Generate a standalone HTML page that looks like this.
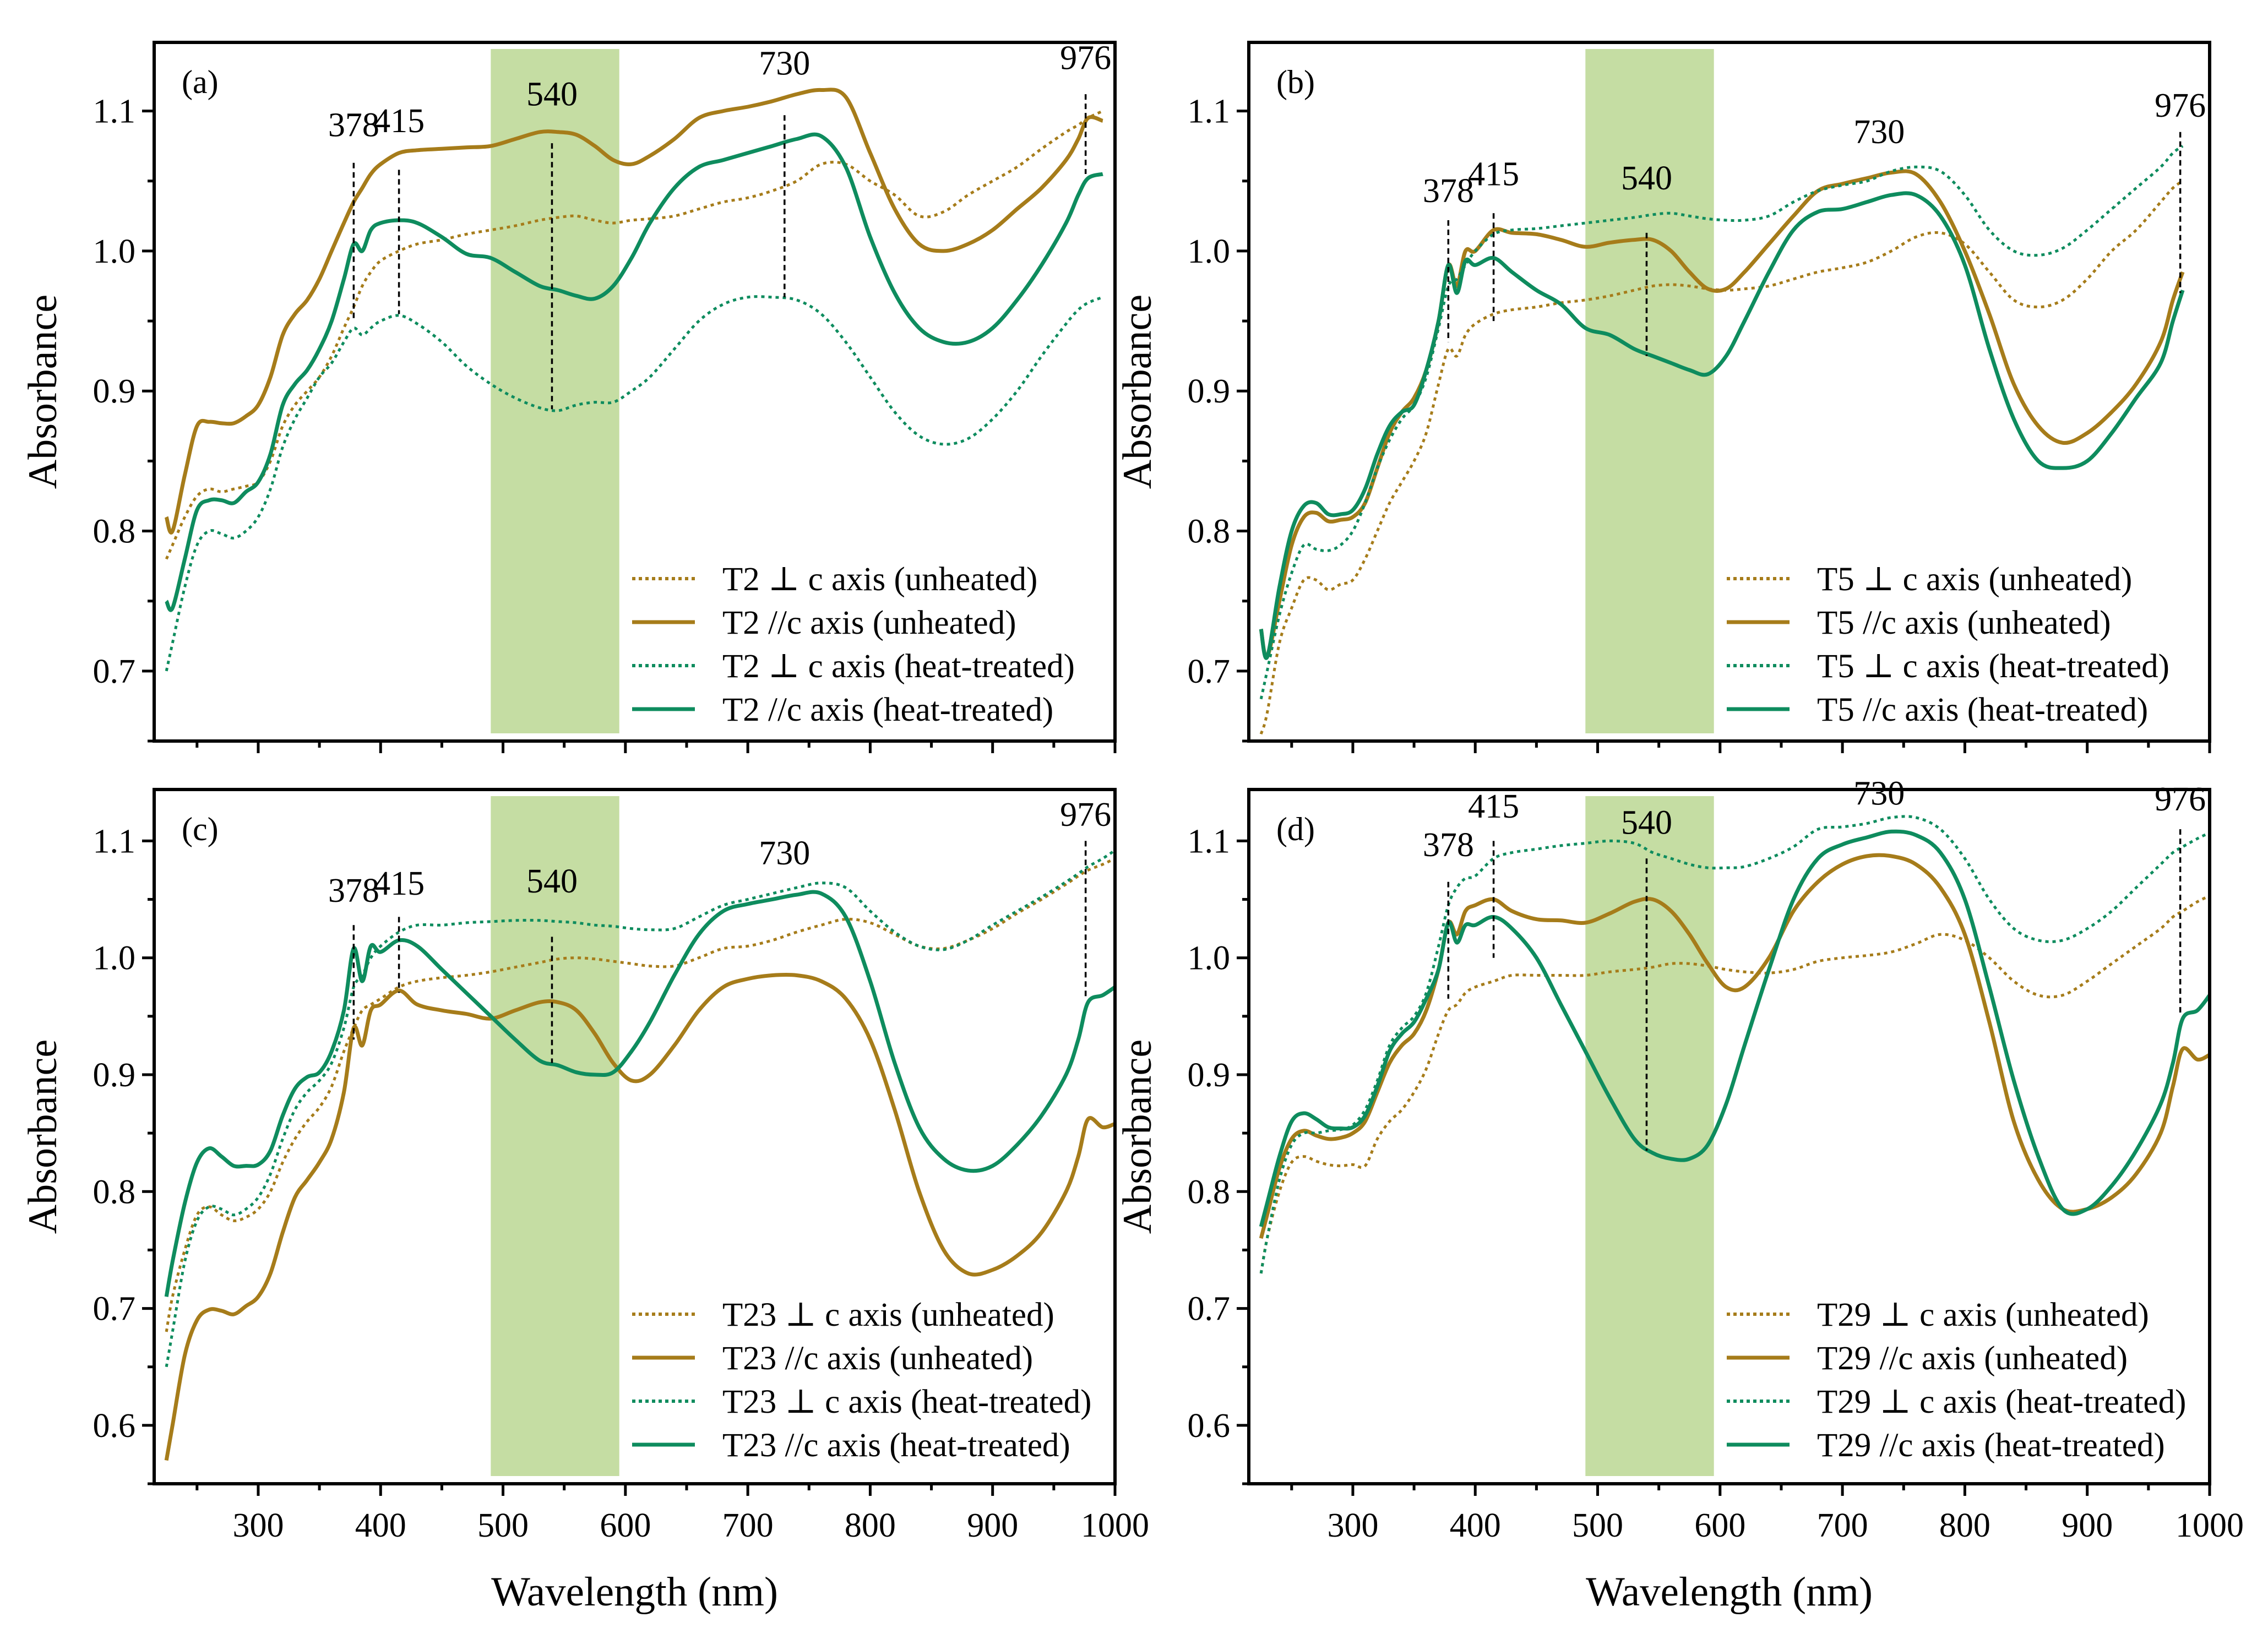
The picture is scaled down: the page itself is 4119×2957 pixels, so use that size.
<!DOCTYPE html>
<html><head><meta charset="utf-8">
<style>
html,body{margin:0;padding:0;background:#fff;}
svg{display:block;font-family:"Liberation Serif","DejaVu Serif",serif;}
</style></head>
<body>
<svg id="chart" width="4119" height="2957" viewBox="0 0 4119 2957" xmlns="http://www.w3.org/2000/svg"></svg>
<script>
const wl=[225,230,240,250,260,270,280,290,300,310,320,330,340,350,360,370,378,385,392,400,415,430,450,470,490,510,530,545,560,575,590,605,620,640,660,680,700,720,740,760,780,800,820,840,860,880,900,920,940,960,970,978,990,1000];
const xTicks=[300,400,500,600,700,800,900,1000];
const yTicksTop=[0.7,0.8,0.9,1.0,1.1];
const yTicksBottom=[0.6,0.7,0.8,0.9,1.0,1.1];
const bandRange=[490,595];
// panel (a) T2
const a_pu=[0.78,0.79,0.81,0.825,0.83,0.828,0.83,0.832,0.835,0.85,0.875,0.89,0.9,0.91,0.925,0.945,0.96,0.975,0.985,0.993,1.0,1.005,1.008,1.012,1.015,1.018,1.022,1.024,1.025,1.022,1.02,1.022,1.023,1.025,1.03,1.035,1.038,1.043,1.05,1.062,1.062,1.05,1.04,1.025,1.028,1.04,1.05,1.06,1.073,1.085,1.09,1.095,1.1,null];
const a_up=[0.81,0.80,0.84,0.875,0.878,0.877,0.877,0.882,0.89,0.91,0.94,0.955,0.965,0.98,1.0,1.02,1.035,1.045,1.055,1.062,1.07,1.072,1.073,1.074,1.075,1.08,1.085,1.085,1.083,1.075,1.065,1.062,1.068,1.08,1.095,1.1,1.103,1.107,1.112,1.115,1.11,1.07,1.03,1.005,1.0,1.005,1.015,1.03,1.045,1.065,1.08,1.095,1.093,null];
const a_ph=[0.70,0.72,0.76,0.79,0.8,0.798,0.795,0.8,0.81,0.83,0.86,0.88,0.895,0.91,0.92,0.935,0.945,0.94,0.945,0.95,0.954,0.948,0.935,0.918,0.905,0.895,0.888,0.886,0.89,0.892,0.892,0.9,0.91,0.93,0.95,0.962,0.967,0.967,0.965,0.955,0.935,0.91,0.885,0.868,0.862,0.866,0.88,0.9,0.925,0.948,0.958,0.963,0.967,null];
const a_gh=[0.75,0.745,0.78,0.815,0.822,0.822,0.82,0.828,0.835,0.855,0.89,0.905,0.915,0.93,0.95,0.98,1.005,1.0,1.015,1.02,1.022,1.02,1.01,0.998,0.995,0.985,0.975,0.972,0.968,0.966,0.975,0.995,1.02,1.045,1.06,1.065,1.07,1.075,1.08,1.082,1.06,1.01,0.97,0.945,0.935,0.935,0.945,0.965,0.99,1.02,1.04,1.052,1.055,null];
// panel (b) T5
const b_pu=[0.655,0.67,0.72,0.745,0.765,0.765,0.758,0.762,0.765,0.78,0.8,0.82,0.835,0.85,0.87,0.905,0.93,0.925,0.94,0.948,0.955,0.958,0.96,0.963,0.965,0.968,0.972,0.975,0.976,0.975,0.973,0.972,0.973,0.975,0.98,0.985,0.988,0.992,1.0,1.01,1.013,1.005,0.985,0.965,0.96,0.965,0.98,1.0,1.015,1.035,1.045,1.05,null,null];
const b_up=[0.73,0.71,0.75,0.79,0.81,0.813,0.807,0.808,0.81,0.82,0.845,0.87,0.885,0.895,0.915,0.95,0.99,0.975,1.0,1.0,1.015,1.013,1.012,1.008,1.003,1.006,1.008,1.008,1.0,0.985,0.973,0.973,0.985,1.005,1.025,1.043,1.048,1.052,1.056,1.055,1.035,1.0,0.955,0.905,0.875,0.863,0.87,0.885,0.905,0.935,0.965,0.985,null,null];
const b_ph=[0.68,0.7,0.74,0.77,0.79,0.787,0.786,0.79,0.8,0.82,0.845,0.865,0.88,0.89,0.91,0.945,0.975,0.98,0.99,1.0,1.012,1.015,1.016,1.018,1.02,1.022,1.024,1.026,1.027,1.025,1.023,1.022,1.022,1.025,1.035,1.043,1.047,1.05,1.057,1.06,1.057,1.04,1.015,1.0,0.997,1.002,1.015,1.03,1.045,1.06,1.07,1.075,null,null];
const b_gh=[0.73,0.71,0.76,0.8,0.818,0.82,0.812,0.812,0.815,0.83,0.855,0.875,0.885,0.89,0.915,0.95,0.99,0.97,0.993,0.99,0.995,0.985,0.972,0.962,0.945,0.94,0.93,0.925,0.92,0.915,0.912,0.925,0.95,0.985,1.015,1.028,1.03,1.035,1.04,1.04,1.025,0.99,0.93,0.88,0.85,0.845,0.85,0.87,0.895,0.92,0.95,0.972,null,null];
// panel (c) T23
const c_pu=[0.68,0.71,0.75,0.78,0.787,0.78,0.775,0.778,0.785,0.8,0.825,0.845,0.86,0.872,0.89,0.92,0.94,0.955,0.96,0.965,0.975,0.98,0.983,0.985,0.988,0.992,0.996,0.999,1.0,0.999,0.997,0.995,0.993,0.993,1.0,1.008,1.01,1.015,1.022,1.028,1.033,1.03,1.02,1.01,1.008,1.015,1.025,1.038,1.05,1.063,1.07,1.075,1.08,1.085];
const c_up=[0.57,0.6,0.66,0.69,0.699,0.698,0.695,0.702,0.71,0.73,0.765,0.795,0.81,0.825,0.845,0.885,0.94,0.925,0.955,0.96,0.972,0.96,0.955,0.952,0.948,0.955,0.962,0.962,0.955,0.935,0.91,0.895,0.9,0.925,0.955,0.975,0.982,0.985,0.985,0.98,0.965,0.93,0.87,0.8,0.75,0.73,0.733,0.745,0.765,0.8,0.83,0.862,0.855,0.858];
const c_ph=[0.65,0.68,0.74,0.775,0.787,0.785,0.78,0.785,0.795,0.815,0.845,0.87,0.885,0.895,0.91,0.94,0.975,0.985,1.0,1.01,1.022,1.028,1.028,1.03,1.031,1.032,1.032,1.031,1.03,1.028,1.027,1.025,1.024,1.025,1.035,1.045,1.05,1.055,1.06,1.064,1.06,1.04,1.022,1.01,1.007,1.015,1.028,1.04,1.052,1.065,1.072,1.078,1.085,1.092];
const c_gh=[0.71,0.74,0.79,0.825,0.837,0.83,0.822,0.822,0.823,0.835,0.865,0.888,0.898,0.902,0.92,0.955,1.008,0.98,1.01,1.005,1.015,1.01,0.99,0.97,0.95,0.93,0.912,0.908,0.902,0.9,0.902,0.92,0.945,0.985,1.02,1.04,1.046,1.05,1.054,1.055,1.035,0.98,0.91,0.855,0.828,0.818,0.822,0.84,0.865,0.9,0.93,0.962,0.968,0.975];
// panel (d) T29
const d_pu=[0.73,0.76,0.8,0.825,0.83,0.826,0.823,0.822,0.823,0.822,0.845,0.86,0.87,0.885,0.905,0.935,0.955,0.96,0.97,0.975,0.98,0.985,0.985,0.985,0.985,0.988,0.99,0.992,0.995,0.995,0.993,0.99,0.988,0.987,0.99,0.997,1.0,1.002,1.005,1.012,1.02,1.015,1.0,0.98,0.968,0.968,0.98,0.995,1.01,1.025,1.035,1.04,1.048,1.053];
const d_up=[0.76,0.78,0.82,0.845,0.852,0.848,0.845,0.846,0.85,0.86,0.885,0.91,0.925,0.935,0.955,0.99,1.03,1.02,1.04,1.045,1.05,1.04,1.033,1.032,1.03,1.038,1.048,1.05,1.04,1.02,0.995,0.975,0.975,1.0,1.04,1.065,1.08,1.087,1.087,1.08,1.06,1.02,0.945,0.86,0.81,0.785,0.785,0.795,0.815,0.85,0.89,0.922,0.913,0.917];
const d_ph=[0.73,0.76,0.81,0.84,0.85,0.85,0.852,0.853,0.857,0.87,0.895,0.925,0.94,0.95,0.97,1.01,1.045,1.06,1.068,1.07,1.085,1.09,1.093,1.096,1.098,1.1,1.098,1.09,1.085,1.08,1.077,1.077,1.078,1.085,1.095,1.11,1.112,1.115,1.12,1.12,1.11,1.085,1.05,1.025,1.015,1.015,1.025,1.04,1.06,1.08,1.09,1.095,1.102,1.107];
const d_gh=[0.77,0.79,0.83,0.86,0.867,0.862,0.855,0.854,0.855,0.865,0.89,0.92,0.935,0.945,0.965,0.99,1.03,1.013,1.028,1.028,1.035,1.025,1.0,0.96,0.92,0.88,0.845,0.833,0.828,0.828,0.84,0.875,0.925,0.99,1.05,1.085,1.097,1.103,1.108,1.105,1.09,1.05,0.975,0.895,0.83,0.785,0.785,0.805,0.835,0.875,0.91,0.948,0.955,0.968];
// annotation values [wavelength, yTop, yBottom(null = no line), labelY]
const annA=[[378,1.063,0.952,1.082],[415,1.058,0.955,1.085],[540,1.077,0.887,1.104],[730,1.097,0.967,1.126],[976,1.112,1.055,1.13]];
const annB=[[378,1.022,0.935,1.035],[415,1.027,0.95,1.047],[540,1.013,0.925,1.044],[730,null,null,1.077],[976,1.085,0.97,1.096]];
const annC=[[378,1.028,0.93,1.048],[415,1.035,0.97,1.054],[540,1.018,0.91,1.056],[730,null,null,1.08],[976,1.1,0.965,1.113]];
const annD=[[378,1.065,0.965,1.087],[415,1.1,1.0,1.12],[540,1.085,0.835,1.106],[730,null,null,1.131],[976,1.11,0.95,1.126]];

const GOLD="#a67c1a", GREEN="#0e8c5e";
const NS="http://www.w3.org/2000/svg";
const svg=document.getElementById('chart');
function mk(tag,attrs,parent){const e=document.createElementNS(NS,tag);for(const k in attrs)e.setAttribute(k,attrs[k]);(parent||svg).appendChild(e);return e;}

function smoothPath(pts){
  if(pts.length<2)return '';
  let d='M'+pts[0][0].toFixed(1)+','+pts[0][1].toFixed(1);
  for(let i=0;i<pts.length-1;i++){
    const p0=pts[Math.max(i-1,0)],p1=pts[i],p2=pts[i+1],p3=pts[Math.min(i+2,pts.length-1)];
    const c1x=p1[0]+(p2[0]-p0[0])/6,c1y=p1[1]+(p2[1]-p0[1])/6;
    const c2x=p2[0]-(p3[0]-p1[0])/6,c2y=p2[1]-(p3[1]-p1[1])/6;
    d+='C'+c1x.toFixed(1)+','+c1y.toFixed(1)+' '+c2x.toFixed(1)+','+c2y.toFixed(1)+' '+p2[0].toFixed(1)+','+p2[1].toFixed(1);
  }
  return d;
}

function panel(cfg){
  const {L,R,T,B,ymin,ymax,letter,sample,series,ann,yTicks,showX,key}=cfg;
  const X=v=>L+(v-215)/(1000-215)*(R-L);
  const Y=v=>B-(v-ymin)/(ymax-ymin)*(B-T);
  const g=mk('g',{});
  
  
  const band=mk('rect',{x:X(bandRange[0]),y:T+12,width:X(bandRange[1])-X(bandRange[0]),height:B-T-26,fill:'#c5dda3'},g);
  
  
  const styles=[{c:GOLD,d:true},{c:GOLD,d:false},{c:GREEN,d:true},{c:GREEN,d:false}];
  const names=['perp-unheated','parallel-unheated','perp-heat-treated','parallel-heat-treated'];
  series.forEach((arr,i)=>{
    const pts=[];arr.forEach((v,j)=>{if(v!==null)pts.push([X(wl[j]),Y(v)]);});
    const p=mk('path',{d:smoothPath(pts),fill:'none',stroke:styles[i].c,'stroke-width':styles[i].d?5:7,'stroke-dasharray':styles[i].d?'6 7':'none','stroke-linejoin':'round'},g);
    
    
  });
  ann.forEach(a=>{
    if(a[1]!==null){
      const ln=mk('line',{x1:X(a[0]),x2:X(a[0]),y1:Y(a[1]),y2:Y(a[2]),stroke:'#000','stroke-width':3.5,'stroke-dasharray':'10 7'},g);
      
      
    }
    const t=mk('text',{x:X(a[0]),y:Y(a[3]),'font-size':62,'text-anchor':'middle'},g);
    t.textContent=a[0];
    
    
  });
  const fr=mk('rect',{x:L,y:T,width:R-L,height:B-T,fill:'none',stroke:'#000','stroke-width':6},g);
  
  
  for(let v=250;v<=1000;v+=50){
    const major=v%100===0;
    mk('line',{x1:X(v),x2:X(v),y1:B,y2:B+(major?22:12),stroke:'#000','stroke-width':5},g);
  }
  if(showX){
    xTicks.forEach(v=>{
      const t=mk('text',{x:X(v),y:B+96,'font-size':62,'text-anchor':'middle'},g);
      t.textContent=v;
      
      
    });
    const xt=mk('text',{x:(L+R)/2,y:2916,'font-size':75,'text-anchor':'middle'},g);
    xt.textContent='Wavelength (nm)';
    
    
  }
  for(let v=Math.ceil(ymin*20)/20;v<=ymax+1e-9;v+=0.05){
    const major=Math.abs(Math.round(v*10)-v*10)<1e-6;
    mk('line',{x1:L,x2:L-(major?22:12),y1:Y(v),y2:Y(v),stroke:'#000','stroke-width':5},g);
  }
  yTicks.forEach(v=>{
    const t=mk('text',{x:L-34,y:Y(v)+21,'font-size':62,'text-anchor':'end'},g);
    t.textContent=v.toFixed(1);
    
    
  });
  const yt=mk('text',{x:0,y:0,'font-size':74,'text-anchor':'middle',transform:'translate('+(L-178)+','+((T+B)/2)+') rotate(-90)'},g);
  yt.textContent='Absorbance';
  
  
  const pl=mk('text',{x:L+50,y:T+92,'font-size':60},g);
  pl.textContent='('+key+')';
  
  
  const lg=mk('g',{},g);
  
  
  const ly=cfg.legendY;
  const labels=[sample+' \u22a5 c axis (unheated)',sample+'  //c axis (unheated)',sample+' \u22a5 c axis (heat-treated)',sample+'  //c axis (heat-treated)'];
  const lx=L+868;
  labels.forEach((lab,i)=>{
    const y=ly+i*79;
    const ln=mk('line',{x1:lx,x2:lx+114,y1:y,y2:y,stroke:styles[i].c,'stroke-width':styles[i].d?6:7,'stroke-dasharray':styles[i].d?'6 6':'none'},lg);
    
    
    const t=mk('text',{x:lx+164,y:y+21,'font-size':61,'xml:space':'preserve'},lg);
    t.textContent=lab;
    
    
  });
}

panel({key:'a',sample:'T2',L:280,R:2025,T:77,B:1346,ymin:0.65,ymax:1.149,series:[a_pu,a_up,a_ph,a_gh],ann:annA,yTicks:yTicksTop,showX:false,legendY:1051});
panel({key:'b',sample:'T5',L:2268,R:4013,T:77,B:1346,ymin:0.65,ymax:1.149,series:[b_pu,b_up,b_ph,b_gh],ann:annB,yTicks:yTicksTop,showX:false,legendY:1051});
panel({key:'c',sample:'T23',L:280,R:2025,T:1434,B:2695,ymin:0.55,ymax:1.144,series:[c_pu,c_up,c_ph,c_gh],ann:annC,yTicks:yTicksBottom,showX:true,legendY:2387});
panel({key:'d',sample:'T29',L:2268,R:4013,T:1434,B:2695,ymin:0.55,ymax:1.144,series:[d_pu,d_up,d_ph,d_gh],ann:annD,yTicks:yTicksBottom,showX:true,legendY:2387});
</script>
</body></html>
